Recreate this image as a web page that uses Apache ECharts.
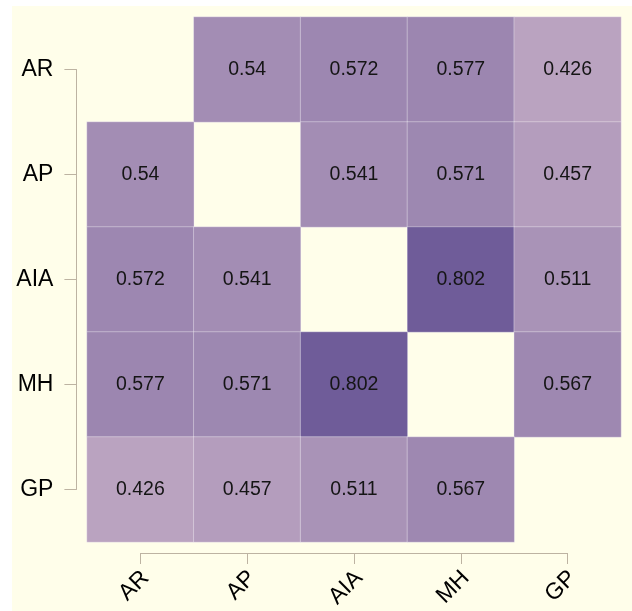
<!DOCTYPE html>
<html>
<head>
<meta charset="utf-8">
<script src="https://cdn.jsdelivr.net/npm/echarts@6/dist/echarts.min.js"></script>
<style>
html,body{margin:0;padding:0;background:#ffffff;}
#bg{position:absolute;left:12px;top:6px;width:620px;height:605px;background:#fffeea;}
#chart{position:absolute;left:0;top:0;width:632px;height:611px;}
</style>
</head>
<body>
<div id="bg"></div>
<div id="chart"></div>
<script>
var categories = ['AR', 'AP', 'AIA', 'MH', 'GP'];
var rowAR  = [null, 0.54, 0.572, 0.577, 0.426];
var rowAP  = [0.54, null, 0.541, 0.571, 0.457];
var rowAIA = [0.572, 0.541, null, 0.802, 0.511];
var rowMH  = [0.577, 0.571, 0.802, null, 0.567];
var rowGP  = [0.426, 0.457, 0.511, 0.567, null];
var rows = [rowAR, rowAP, rowAIA, rowMH, rowGP];

var data = [];
rows.forEach(function (row, r) {
  row.forEach(function (v, c) {
    if (v !== null) data.push([c, r, v]);
  });
});

var font = 'Liberation Sans, Arial, sans-serif';
var axisColor = '#bdb3a2';
var chart = echarts.init(document.getElementById('chart'), null, {renderer: 'canvas'});
chart.setOption({
  backgroundColor: 'transparent',
  animation: false,
  grid: [
    {left: 87, right: 11, top: 17, bottom: 69},
    {left: 140.4, right: 64.4, top: 69.5, bottom: 121.5},
    {left: 145.4, right: 59.4, top: 69.5, bottom: 121.5}
  ],
  xAxis: [
    {type: 'category', gridIndex: 0, data: categories, show: false},
    {type: 'category', gridIndex: 1, data: categories, boundaryGap: false, position: 'bottom', offset: 63.5,
      axisLine: {show: true, lineStyle: {color: axisColor, width: 1}},
      axisTick: {show: true, length: 11, lineStyle: {color: axisColor, width: 1}},
      axisLabel: {show: false},
      splitLine: {show: false}},
    {type: 'category', gridIndex: 2, data: categories, boundaryGap: false, position: 'bottom', offset: 63.5,
      axisLine: {show: false}, axisTick: {show: false},
      axisLabel: {rotate: 45, margin: 29, color: '#000', fontSize: 23, fontFamily: font, interval: 0},
      splitLine: {show: false}}
  ],
  yAxis: [
    {type: 'category', gridIndex: 0, data: categories, inverse: true, show: false},
    {type: 'category', gridIndex: 1, data: categories, inverse: true, boundaryGap: false, position: 'left', offset: 64,
      axisLine: {show: true, lineStyle: {color: axisColor, width: 1}},
      axisTick: {show: true, length: 12, lineStyle: {color: axisColor, width: 1}},
      axisLabel: {margin: 23, color: '#000', fontSize: 23, fontFamily: font, interval: 0},
      splitLine: {show: false}},
    {type: 'category', gridIndex: 2, data: categories, inverse: true, show: false}
  ],
  visualMap: {
    show: false, type: 'continuous', min: 0.426, max: 0.802, dimension: 2, seriesIndex: 0,
    inRange: {color: ['#baa3c0', '#6f5c99']}
  },
  series: [{
    type: 'heatmap',
    xAxisIndex: 0, yAxisIndex: 0,
    data: data,
    label: {show: true, color: '#151515', fontSize: 19.5, fontFamily: font,
      formatter: function (p) { return String(p.value[2]); }},
    itemStyle: {borderColor: 'rgba(255,255,255,0.35)', borderWidth: 1},
    emphasis: {disabled: true}
  }]
});
</script>
</body>
</html>
